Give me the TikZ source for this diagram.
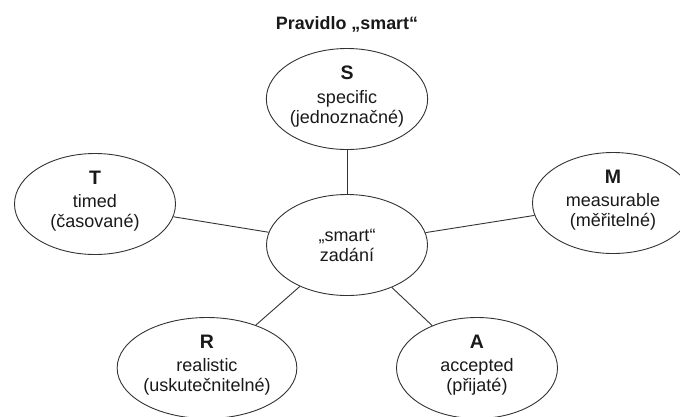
\documentclass[tikz,border=0pt]{standalone}
\usepackage{fontspec}
\setmainfont{Liberation Sans}
\usetikzlibrary{shapes.geometric}
\newcommand\smartletter[1]{{\fontsize{19.5}{20}\selectfont\bfseries #1}\\[3.5pt]}
\newcommand\smartend{\rule[-9pt]{0pt}{9pt}}
\begin{document}
\begin{tikzpicture}[x=1pt,y=-1pt,
  bub/.style={ellipse, draw=black!80, line width=0.9pt, minimum width=161pt,
    minimum height=101pt, inner sep=0pt, align=center,
    font=\fontsize{18}{20}\selectfont, text=black!90},
  conn/.style={draw=black!80, line width=0.9pt}]
\useasboundingbox (0,0) rectangle (680,416);
\node[font=\bfseries\fontsize{17.9}{20}\selectfont, text=black!90, anchor=base]
  (title) at (347,29.5) {Pravidlo „smart“};
\node[bub] (S) at (347,99) {\smartletter{S}specific\\(jednoznačné)\smartend};
\node[bub] (T) at (95,204) {\smartletter{T}timed\\(časované)\smartend};
\node[bub] (M) at (613,203) {\smartletter{M}measurable\\(měřitelné)\smartend};
\node[bub] (C) at (347,245) {„smart“\\zadání};
\node[bub] (R) at (207,368) {\smartletter{R}realistic\\(uskutečnitelné)\smartend};
\node[bub] (A) at (477,368) {\smartletter{A}accepted\\(přijaté)\smartend};
\draw[conn] (S) -- (C);
\draw[conn] (T) -- (C);
\draw[conn] (M) -- (C);
\draw[conn] (R) -- (C);
\draw[conn] (A) -- (C);
\end{tikzpicture}
\end{document}
